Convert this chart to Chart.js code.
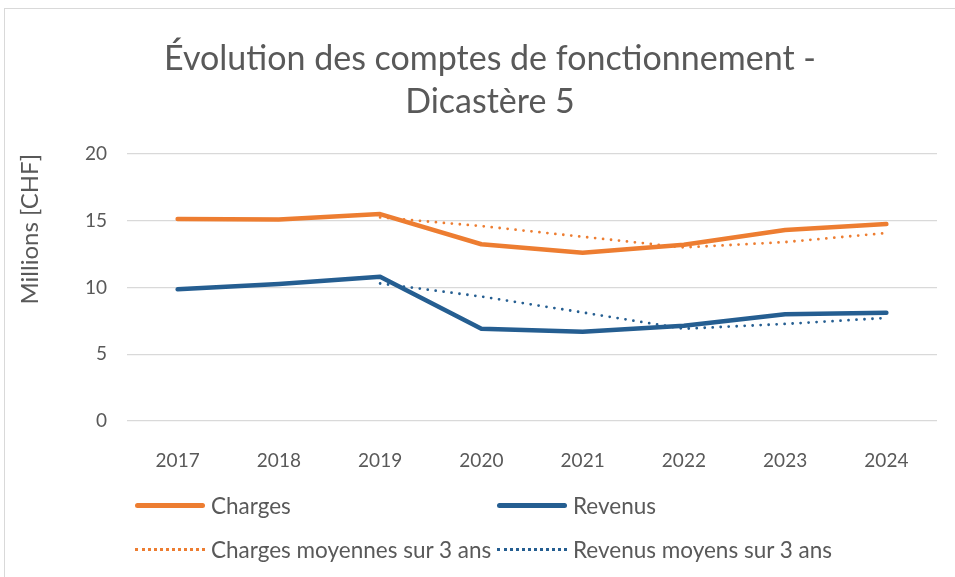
<!DOCTYPE html>
<html>
<head>
<meta charset="utf-8">
<script src="https://cdn.jsdelivr.net/npm/chart.js@4"></script>
<style>
    html, body { margin: 0; padding: 0; background: #fff; }
    body { width: 955px; height: 577px; position: relative; overflow: hidden; font-family: Lato, sans-serif; }
    #frame { position: absolute; left: 4px; top: 8px; width: 980px; height: 620px; border: 1px solid #d9d9d9; box-sizing: border-box; }
    #wrap { position: absolute; left: 0; top: 0; width: 955px; height: 577px; }
    #titre { position: absolute; left: 4px; top: 35px; width: 972px; text-align: center; color: #595959; font-size: 34px; line-height: 43px; }
    #legend { position: absolute; left: 135px; top: 483px; display: grid; grid-template-columns: 362px 362px; grid-auto-rows: 44px; }
    .item { display: flex; align-items: center; color: #595959; font-size: 22.5px; white-space: nowrap; }
    .sample { width: 70px; margin-right: 6px; }
</style>
</head>
<body>
<div id="frame"></div>
<div id="wrap"><canvas id="myChart" width="955" height="577"></canvas></div>
<div id="titre">Évolution des comptes de fonctionnement -<br>Dicastère 5</div>
<div id="legend"></div>
<script>
// Données (millions CHF)
const annees = ['2017', '2018', '2019', '2020', '2021', '2022', '2023', '2024'];
const charges = [15.13, 15.1, 15.5, 13.24, 12.6, 13.2, 14.3, 14.75];
const revenus = [9.86, 10.26, 10.8, 6.91, 6.69, 7.14, 7.99, 8.11];
const chargesMoy = [null, null, 15.25, 14.6, 13.8, 13.0, 13.4, 14.08];
const revenusMoy = [null, null, 10.3, 9.32, 8.13, 6.91, 7.27, 7.72];
const yTicks = [0, 5, 10, 15, 20];

const orange = '#ED7D31';
const bleu = '#255E91';
const gris = '#595959';

const datasets = [
    { label: 'Charges', data: charges, borderColor: orange, backgroundColor: orange, borderWidth: 4.5 },
    { label: 'Revenus', data: revenus, borderColor: bleu, backgroundColor: bleu, borderWidth: 4.5 },
    { label: 'Charges moyennes sur 3 ans', data: chargesMoy, borderColor: orange, backgroundColor: orange, borderWidth: 2.8, borderDash: [0, 8] },
    { label: 'Revenus moyens sur 3 ans', data: revenusMoy, borderColor: bleu, backgroundColor: bleu, borderWidth: 2.8, borderDash: [0, 8] }
];
datasets.forEach(d => {
    d.pointRadius = 0;
    d.pointHoverRadius = 0;
    d.tension = 0;
    d.fill = false;
    d.borderCapStyle = 'round';
    d.borderJoinStyle = 'round';
});

// titre en HTML : il est centré sur le cadre, pas sur le canevas
const chart = new Chart(document.getElementById('myChart'), {
    type: 'line',
    data: { labels: annees, datasets: datasets },
    options: {
        responsive: false,
        animation: false,
        layout: { padding: { left: 10, right: 18, top: 154, bottom: 106 } },
        plugins: {
            legend: { display: false },
            tooltip: { enabled: false },
            title: { display: false }
        },
        scales: {
            x: {
                offset: true,
                grid: { display: false },
                border: { display: false },
                ticks: { color: gris, font: { family: 'Lato', size: 19 }, padding: 20, maxRotation: 0 },
                afterFit: s => { s.height = 50; }
            },
            y: {
                min: 0,
                max: 20,
                afterBuildTicks: s => { s.ticks = yTicks.map(v => ({ value: v })); },
                grid: { color: '#d9d9d9', lineWidth: 1.2, drawTicks: false },
                border: { display: false },
                ticks: { color: gris, font: { family: 'Lato', size: 19 }, padding: 20 },
                title: {
                    display: true,
                    text: 'Millions [CHF]',
                    align: 'end',
                    color: gris,
                    font: { family: 'Lato', size: 24, weight: 'normal' },
                    padding: { top: 6, bottom: 0 }
                },
                afterFit: s => { s.width = 117; }
            }
        }
    }
});

// Légende HTML sur deux colonnes
const legend = document.getElementById('legend');
chart.data.datasets.forEach(d => {
    const item = document.createElement('div');
    item.className = 'item';
    const sample = document.createElement('span');
    sample.className = 'sample';
    if (d.borderDash) {
        sample.style.borderTop = '3px dotted ' + d.borderColor;
    } else {
        sample.style.height = '5px';
        sample.style.borderRadius = '3px';
        sample.style.background = d.borderColor;
    }
    const txt = document.createElement('span');
    txt.textContent = d.label;
    item.appendChild(sample);
    item.appendChild(txt);
    legend.appendChild(item);
});
</script>
</body>
</html>
